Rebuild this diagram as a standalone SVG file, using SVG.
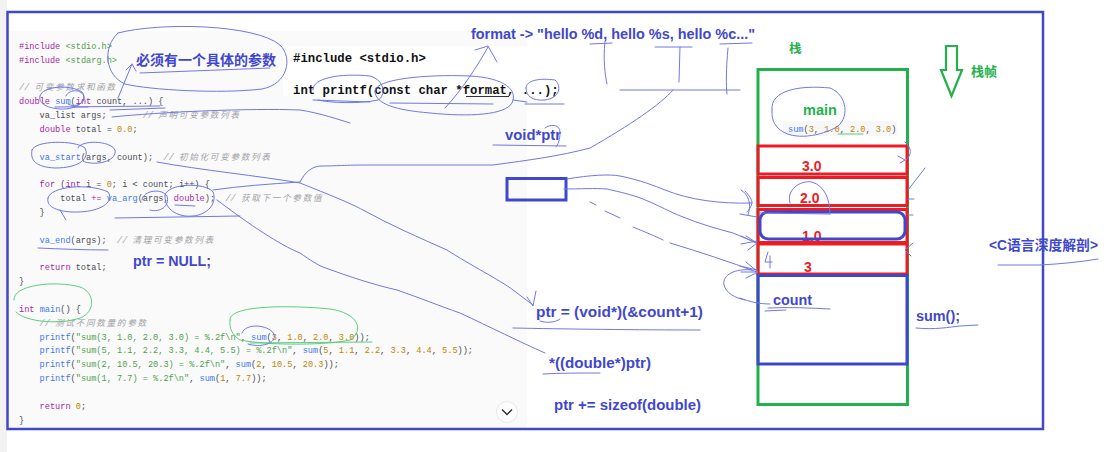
<svg xmlns="http://www.w3.org/2000/svg" width="1111" height="452" viewBox="0 0 1111 452">
<style>
.code{font-family:"Liberation Mono","Noto Sans CJK SC",monospace;font-size:8.6px;fill:#4a4c55}
.k{fill:#a626a4}.f{fill:#4078f2}.s{fill:#50a14f}.n{fill:#c18401}.c{fill:#a0a1a7;font-style:italic}.zh{letter-spacing:1.7px}
.lb{font-family:"Liberation Sans","Noto Sans CJK SC",sans-serif;font-weight:bold;font-size:14px;fill:#3f48cc}
.zhb{font-family:"Noto Sans CJK SC",sans-serif;font-weight:bold}
.dec{font-family:"Liberation Mono",monospace;font-weight:bold;font-size:12.3px;fill:#111}
.pen{fill:none;stroke:#7078e4;stroke-width:1;stroke-linecap:round;stroke-linejoin:round}
.gpen{fill:none;stroke:#5ccf7f;stroke-width:1;stroke-linecap:round}
.red{fill:none;stroke:#ed1c24;stroke-width:3}
.blu{fill:none;stroke:#3f48cc;stroke-width:3}
.rt{font-family:"Liberation Sans",sans-serif;font-weight:bold;font-size:14px;fill:#ed1c24}
</style>
<rect width="1111" height="452" fill="#fff"/>
<rect x="0" y="0" width="7" height="452" fill="#f2f2f2"/>
<g id="code-panel">
<rect x="9" y="31" width="518" height="397" fill="#fafafa"/>
<g class="code" xml:space="preserve">
<text x="19" y="48.7"><tspan class="k">#include</tspan> <tspan class="s">&lt;stdio.h&gt;</tspan></text>
<text x="19" y="62.6"><tspan class="k">#include</tspan> <tspan class="s">&lt;stdarg.h&gt;</tspan></text>
<text x="19" y="90.3" class="c">// <tspan class="zh">可变参数求和函数</tspan></text>
<text x="19" y="104.1"><tspan class="k">double</tspan> <tspan class="f">sum</tspan>(<tspan class="k">int</tspan> count, ...) {</text>
<text x="39.6" y="118">va_list args;<tspan x="142.8" class="c">// <tspan class="zh">声明可变参数列表</tspan></tspan></text>
<text x="39.6" y="131.8"><tspan class="k">double</tspan> total = <tspan class="n">0.0</tspan>;</text>
<text x="39.6" y="159.5"><tspan class="f">va_start</tspan>(args, count);<tspan x="163.5" class="c">// <tspan class="zh">初始化可变参数列表</tspan></tspan></text>
<text x="39.6" y="187.2"><tspan class="k">for</tspan> (<tspan class="k">int</tspan> i = <tspan class="n">0</tspan>; i &lt; count; i++) {</text>
<text x="60.3" y="201.1">total <tspan class="k">+=</tspan> <tspan class="f">va_arg</tspan>(args, <tspan class="k">double</tspan>);<tspan x="225.4" class="c">// <tspan class="zh">获取下一个参数值</tspan></tspan></text>
<text x="39.6" y="214.9">}</text>
<text x="39.6" y="242.6"><tspan class="f">va_end</tspan>(args);<tspan x="117" class="c">// <tspan class="zh">清理可变参数列表</tspan></tspan></text>
<text x="39.6" y="270.3"><tspan class="k">return</tspan> total;</text>
<text x="19" y="284.2">}</text>
<text x="19" y="311.9"><tspan class="k">int</tspan> <tspan class="f">main</tspan>() {</text>
<text x="39.6" y="325.7" class="c">// <tspan class="zh">测试不同数量的参数</tspan></text>
<text x="39.6" y="339.6"><tspan class="f">printf</tspan>(<tspan class="s">"sum(3, 1.0, 2.0, 3.0) = %.2f\n"</tspan>, <tspan class="f">sum</tspan>(<tspan class="n">3</tspan>, <tspan class="n">1.0</tspan>, <tspan class="n">2.0</tspan>, <tspan class="n">3.0</tspan>));</text>
<text x="39.6" y="353.4"><tspan class="f">printf</tspan>(<tspan class="s">"sum(5, 1.1, 2.2, 3.3, 4.4, 5.5) = %.2f\n"</tspan>, <tspan class="f">sum</tspan>(<tspan class="n">5</tspan>, <tspan class="n">1.1</tspan>, <tspan class="n">2.2</tspan>, <tspan class="n">3.3</tspan>, <tspan class="n">4.4</tspan>, <tspan class="n">5.5</tspan>));</text>
<text x="39.6" y="367.3"><tspan class="f">printf</tspan>(<tspan class="s">"sum(2, 10.5, 20.3) = %.2f\n"</tspan>, <tspan class="f">sum</tspan>(<tspan class="n">2</tspan>, <tspan class="n">10.5</tspan>, <tspan class="n">20.3</tspan>));</text>
<text x="39.6" y="381.1"><tspan class="f">printf</tspan>(<tspan class="s">"sum(1, 7.7) = %.2f\n"</tspan>, <tspan class="f">sum</tspan>(<tspan class="n">1</tspan>, <tspan class="n">7.7</tspan>));</text>
<text x="39.6" y="408.8"><tspan class="k">return</tspan> <tspan class="n">0</tspan>;</text>
<text x="19" y="422.7">}</text>
</g>
<g id="scroll-button">
<circle cx="507" cy="412" r="10.5" fill="#fff" stroke="#e8e8e8"/>
<path d="M502,409.5 L507,414.5 L512,409.5" fill="none" stroke="#333" stroke-width="1.5"/>
</g>
</g>
<g id="printf-decl">
<rect x="283" y="46" width="244" height="50" fill="#fff"/>
<text class="dec" x="293" y="61.5">#include &lt;stdio.h&gt;</text>
<text class="dec" x="293" y="94">int printf(const char *format, ...);</text>
<line x1="466" y1="96.5" x2="509" y2="96.5" stroke="#333" stroke-width="1"/>
</g>
<rect id="frame" x="7.5" y="12" width="1035.5" height="417" fill="none" stroke="#3f48cc" stroke-width="2.5"/>
<g id="labels">
<text class="lb zhb" x="136" y="65" font-size="13.4">必须有一个具体的参数</text>
<text class="lb" x="471" y="39" font-size="14.5" textLength="284" lengthAdjust="spacingAndGlyphs">format -&gt; "hello %d, hello %s, hello %c..."</text>
<text class="lb" x="505" y="140" textLength="56" lengthAdjust="spacingAndGlyphs">void*ptr</text>
<text class="lb" x="133" y="265.5" textLength="78" lengthAdjust="spacingAndGlyphs">ptr = NULL;</text>
<text class="lb" x="536" y="316.5" textLength="167" lengthAdjust="spacingAndGlyphs">ptr = (void*)(&amp;count+1)</text>
<text class="lb" x="549" y="367.5" textLength="102" lengthAdjust="spacingAndGlyphs">*((double*)ptr)</text>
<text class="lb" x="554" y="410" textLength="147" lengthAdjust="spacingAndGlyphs">ptr += sizeof(double)</text>
<text class="lb" x="916" y="321" textLength="44" lengthAdjust="spacingAndGlyphs">sum();</text>
<text class="lb" x="989" y="250" font-size="13.5" textLength="109" lengthAdjust="spacingAndGlyphs">&lt;C语言深度解剖&gt;</text>
<text class="zhb" x="789" y="53" font-size="12.5" fill="#22b14c">栈</text>
<text class="zhb" x="971" y="76" font-size="13" fill="#22b14c">栈帧</text>
</g>
<g id="stack-arrow">
<path d="M946,46 L957,46 L957,70 L962,70 L951.5,96 L941,70 L946,70 Z" fill="none" stroke="#22b14c" stroke-width="2.2" stroke-linejoin="miter"/>
</g>
<g id="ptr-box">
<rect class="blu" x="507" y="178.5" width="59" height="21.5"/>
</g>
<g id="stack">
<rect x="758" y="69.5" width="149.5" height="335" fill="none" stroke="#22b14c" stroke-width="3"/>
<g id="frame-main">
<text x="803" y="114.5" font-family="Liberation Sans,sans-serif" font-weight="bold" font-size="14.5" fill="#22b14c">main</text>
<rect x="783" y="121" width="114" height="15" fill="#f7f7f7"/>
<text class="code" x="788" y="132" xml:space="preserve"><tspan class="f">sum</tspan>(<tspan class="n">3</tspan>, <tspan class="n">1.0</tspan>, <tspan class="n">2.0</tspan>, <tspan class="n">3.0</tspan>)</text>
</g>
<g id="slot-30"><rect class="red" x="758" y="146" width="149" height="28"/><text class="rt" x="802" y="171">3.0</text></g>
<g id="slot-20"><rect class="red" x="758" y="177.5" width="149" height="28"/><text class="rt" x="800" y="203">2.0</text></g>
<g id="slot-10"><rect class="red" x="758" y="209.5" width="149" height="33"/><text class="rt" x="802" y="241">1.0</text>
<rect class="blu" x="760" y="212" width="145" height="27" rx="8"/></g>
<g id="slot-3"><rect class="red" x="758" y="244" width="149" height="30"/><text class="rt" x="804" y="272">3</text></g>
<g id="slot-count"><rect class="blu" x="758" y="275.5" width="149" height="88.5"/>
<text class="lb" x="773" y="305" textLength="39" lengthAdjust="spacingAndGlyphs">count</text></g>
</g>
<g id="connectors">
<path class="pen" d="M118,33 C160,22 255,24 280,45 C293,58 288,84 262,89 C220,94 150,90 125,84 C105,75 102,48 118,33"/>
<path class="pen" d="M140,73 L270,68"/>
<path class="pen" d="M118,98 L132,64 M126,70 L132,64 L136,71"/>
<path class="pen" d="M40,96 C42,86 70,84 82,92 C88,100 78,110 60,109 C45,108 38,102 40,96"/>
<path class="pen" d="M66,96 C68,90 80,88 84,96 C86,104 74,108 68,104"/>
<path class="pen" d="M55,107 L160,106 M110,110 L165,108"/>
<path class="pen" d="M72,107 L88,107" stroke-width="3"/>
<path class="pen" d="M112,117 C160,112 250,108 300,110 C320,113 340,120 350,123"/>
<path class="pen" d="M32,150 C35,140 75,140 85,148 C90,158 80,168 55,168 C35,167 30,160 32,150"/>
<path class="pen" d="M78,148 C80,140 110,140 115,150 C117,160 100,166 85,162"/>
<path class="pen" d="M157,162 C200,170 260,176 300,183 C330,195 350,203 363,210 C390,225 420,238 447,250 C470,265 500,280 513,290 L533,305 M527,297 L533,306 L536,291"/>
<path class="pen" d="M213,190 C240,186 270,184 300,182"/>
<path class="pen" d="M300,182 C305,172 312,166 322,166 C335,166 345,165 370,165 L493,165 C530,160 560,156 590,148 C630,125 660,105 673,90"/>
<path class="pen" d="M620,90 L740,90 M605,42 C603,60 605,75 607,84 M680,47 L679,82 M728,48 C726,70 726,85 727,94"/>
<path class="pen" d="M590,44 L612,43 M655,47 L692,47 M720,44 L752,43"/>
<path class="pen" d="M217,200 C250,225 280,245 300,253 C310,260 318,265 323,267 C350,277 375,285 397,290 C420,298 440,306 460,313 C490,327 520,342 545,353"/>
<path class="pen" d="M48,198 C50,186 90,183 108,192 C115,202 100,213 72,212 C55,211 46,206 48,198 M60,210 L66,220"/>
<path class="pen" d="M142,200 C143,190 162,188 167,196 C170,206 160,213 150,210"/>
<path class="pen" d="M165,195 C168,183 205,182 213,192 C218,205 205,218 185,216 C172,214 164,206 165,195"/>
<path class="pen" d="M115,218 L240,216 M175,205 L195,206"/>
<path class="pen" d="M38,248 C60,249 85,250 108,250"/>
<path class="gpen" d="M14,300 C12,285 55,280 80,287 C95,292 96,312 80,318 C60,325 25,322 16,312"/>
<path class="gpen" d="M230,320 C228,305 290,305 330,309 C358,313 365,330 350,340 C330,345 270,346 240,340 C232,335 229,328 230,320 M250,343 L372,342"/>
<path class="pen" d="M242,333 C245,323 268,324 274,334 C277,344 260,348 248,344"/>
<path class="pen" d="M313,90 C312,78 340,73 370,76 C385,80 386,96 378,100 C360,104 330,103 318,100"/>
<path class="pen" d="M375,92 C372,80 420,74 470,76 C505,78 518,90 512,103 C505,115 470,117 430,113 C395,110 376,104 375,92"/>
<path class="pen" d="M526,88 C526,80 540,78 555,80 C562,86 560,98 545,100 C532,101 526,96 526,88"/>
<path class="pen" d="M313,100 L370,102 M390,103 L493,104 M513,100 L527,102"/>
<path class="pen" d="M525,104 L564,104" stroke-width="2"/>
<path class="pen" d="M445,108 C462,90 478,65 488,47 M475,50 L488,46 L497,62"/>
<path class="pen" d="M545,128 C550,124 560,124 560,132 C560,140 558,145 556,147 M493,145 L566,146"/>
<path class="pen" d="M567,179 C590,175 610,174 620,176 C640,180 655,186 665,190 C690,200 720,204 752,203 M745,191 C750,196 752,200 752,203 C751,207 749,210 747,212"/>
<path class="pen" d="M564,189 C580,189 595,188 607,189 C620,192 633,195 643,199 C660,206 670,212 683,217 C700,224 718,229 733,233 C740,236 750,240 757,243 M746,236 L757,243 L748,250"/>
<path class="pen" d="M590,202 L596,205 M605,211 L620,218 M633,227 C645,232 655,236 663,240 M670,243 C700,252 730,262 757,272 M746,262 L758,272 L746,278"/>
<path class="pen" d="M772,110 C770,90 800,85 830,88 C848,95 850,120 835,128 C815,138 790,140 778,128 C772,122 772,116 772,110"/>
<path class="gpen" d="M838,134 L863,134"/>
<path class="pen" d="M790,203 C786,190 800,180 812,182 C825,186 830,200 830,214 M760,213 L830,214"/>
<path class="pen" d="M768,252 L765,262 L772,262 M770,256 L770,268"/>
<path class="pen" d="M905,142 C912,148 912,155 906,160 M898,156 L905,160 L900,163 M908,190 L925,168 M908,199 L914,199 M908,215 L913,215 M913,243 L905,250 L911,256"/>
<path class="pen" d="M741,190 C748,194 752,203 748,215 M740,214 L757,217 M741,236 L756,243 M741,244 L757,241 M740,266 L757,270 M741,272 L757,272"/>
<path class="pen" d="M752,270 C735,268 722,275 724,285 C726,293 735,298 745,300 M740,298 C750,302 760,304 770,304"/>
<path class="pen" d="M768,308 C790,307 810,308 830,309 M765,311 L786,310"/>
<path class="pen" d="M916,328 C935,330 950,327 960,326 L978,325"/>
<path class="pen" d="M998,265 L1040,265 C1060,264 1080,262 1098,259"/>
<path class="pen" d="M513,328 C560,329 640,330 700,330 M540,321 C545,323 555,323 560,319"/>
<path class="pen" d="M543,374 C560,373 580,373 600,373"/>
</g>
</svg>
